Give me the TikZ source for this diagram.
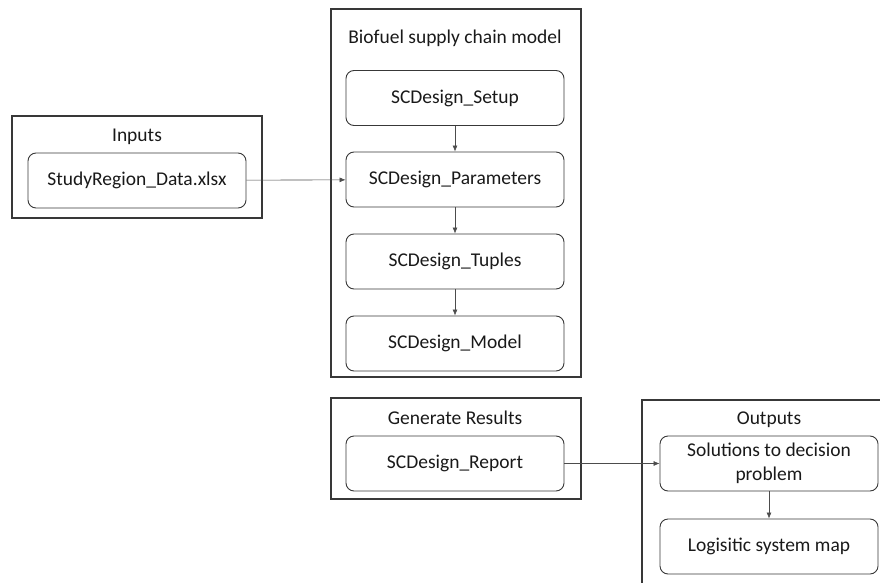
\documentclass[tikz,border=0pt]{standalone}
\usepackage{fontspec}
\setmainfont{Carlito}
\usetikzlibrary{arrows.meta}
\begin{document}
\begin{tikzpicture}[x=1pt,y=-1pt,
  frame/.style={draw=black!78, line width=1.1pt},
  module/.style={draw=black!78, line width=0.9pt, rounded corners=8pt,
    minimum width=218pt, minimum height=55pt, inner sep=2pt, align=center,
    font=\fontsize{19.5}{24}\selectfont, text=black!90},
  heading/.style={font=\fontsize{19.5}{24}\selectfont, text=black!90, inner sep=0pt},
  link/.style={draw=black!70, line width=0.6pt, -{Latex[length=6pt,width=5pt]}}]
\useasboundingbox (0,0) rectangle (880,583);
\clip (0,0) rectangle (880,583);

% group frames
\draw[frame] (12,116) rectangle (262,218);
\draw[frame] (331,9) rectangle (581,377);
\draw[frame] (331,398) rectangle (581,499);
\draw[frame] (642,400) rectangle (900,620);

% group headings
\node[heading] (hin) at (137,137) {Inputs};
\node[heading] (hbio) at (455,38) {Biofuel supply chain model};
\node[heading] (hgen) at (455,418) {Generate Results};
\node[heading] (hout) at (769,420) {Outputs};

% modules
\node[module] (data) at (137,180.5) {StudyRegion\_Data.xlsx};
\node[module] (setup) at (455,98) {SCDesign\_Setup};
\node[module] (param) at (455,179.5) {SCDesign\_Parameters};
\node[module] (tuples) at (455,261.5) {SCDesign\_Tuples};
\node[module] (model) at (455,343.5) {SCDesign\_Model};
\node[module] (report) at (455,463.5) {SCDesign\_Report};
\node[module] (sol) at (769,463.5) {Solutions to decision\\problem};
\node[module] (map) at (769,546.5) {Logisitic system map};

% connectors
\draw[link] (data) -- (param);
\draw[link] (setup) -- (param);
\draw[link] (param) -- (tuples);
\draw[link] (tuples) -- (model);
\draw[link] (report) -- (sol);
\draw[link] (sol) -- (map);
\end{tikzpicture}
\end{document}
